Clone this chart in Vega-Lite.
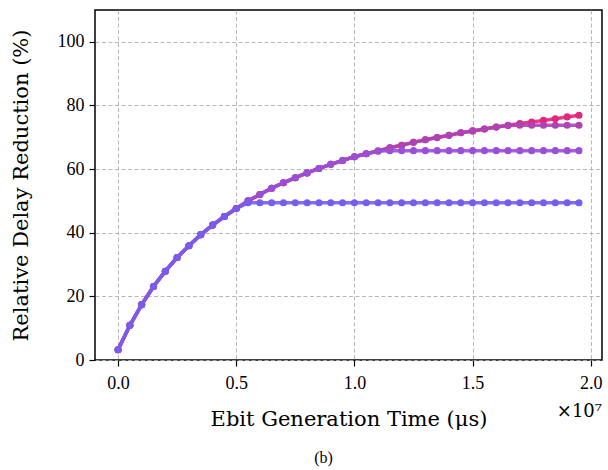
{
  "$schema": "https://vega.github.io/schema/vega-lite/v6.json",
  "width": 507,
  "height": 350,
  "autosize": "none",
  "padding": {"left": 95, "top": 10, "right": 6, "bottom": 110},
  "background": "white",
  "config": {
    "view": {"stroke": "black", "strokeWidth": 1.5},
    "font": "Liberation Serif",
    "axis": {
      "domain": false,
      "grid": true,
      "gridColor": "#b0b0b0",
      "gridDash": [4, 2.5],
      "gridWidth": 0.9,
      "ticks": true,
      "tickColor": "black",
      "tickSize": 6,
      "tickWidth": 1.2,
      "labelFont": "Liberation Serif",
      "labelFontSize": 18,
      "labelColor": "black",
      "titleFont": "DejaVu Serif",
      "titleFontSize": 21,
      "titleFontWeight": "normal",
      "titleColor": "black"
    }
  },
  "title": {
    "text": "(b)",
    "orient": "bottom",
    "anchor": "middle",
    "frame": "group",
    "dx": -25,
    "offset": 21,
    "font": "Liberation Serif",
    "fontSize": 16,
    "fontWeight": "normal",
    "color": "black"
  },
  "datasets": {
    "curves": [
      {"x": 0.00, "y": 3.2, "s": "s4"}, {"x": 0.05, "y": 10.9, "s": "s4"}, {"x": 0.10, "y": 17.4, "s": "s4"}, {"x": 0.15, "y": 23.1, "s": "s4"},
      {"x": 0.20, "y": 27.9, "s": "s4"}, {"x": 0.25, "y": 32.2, "s": "s4"}, {"x": 0.30, "y": 35.9, "s": "s4"}, {"x": 0.35, "y": 39.4, "s": "s4"},
      {"x": 0.40, "y": 42.4, "s": "s4"}, {"x": 0.45, "y": 45.1, "s": "s4"}, {"x": 0.50, "y": 47.6, "s": "s4"}, {"x": 0.55, "y": 50.0, "s": "s4"},
      {"x": 0.60, "y": 52.0, "s": "s4"}, {"x": 0.65, "y": 54.0, "s": "s4"}, {"x": 0.70, "y": 55.7, "s": "s4"}, {"x": 0.75, "y": 57.3, "s": "s4"},
      {"x": 0.80, "y": 58.8, "s": "s4"}, {"x": 0.85, "y": 60.2, "s": "s4"}, {"x": 0.90, "y": 61.5, "s": "s4"}, {"x": 0.95, "y": 62.7, "s": "s4"},
      {"x": 1.00, "y": 63.9, "s": "s4"}, {"x": 1.05, "y": 64.8, "s": "s4"}, {"x": 1.10, "y": 65.7, "s": "s4"}, {"x": 1.15, "y": 66.7, "s": "s4"},
      {"x": 1.20, "y": 67.5, "s": "s4"}, {"x": 1.25, "y": 68.4, "s": "s4"}, {"x": 1.30, "y": 69.2, "s": "s4"}, {"x": 1.35, "y": 69.9, "s": "s4"},
      {"x": 1.40, "y": 70.6, "s": "s4"}, {"x": 1.45, "y": 71.4, "s": "s4"}, {"x": 1.50, "y": 72.0, "s": "s4"}, {"x": 1.55, "y": 72.6, "s": "s4"},
      {"x": 1.60, "y": 73.2, "s": "s4"}, {"x": 1.65, "y": 73.8, "s": "s4"}, {"x": 1.70, "y": 74.3, "s": "s4"}, {"x": 1.75, "y": 74.8, "s": "s4"},
      {"x": 1.80, "y": 75.3, "s": "s4"}, {"x": 1.85, "y": 75.8, "s": "s4"}, {"x": 1.90, "y": 76.4, "s": "s4"}, {"x": 1.95, "y": 76.9, "s": "s4"},

      {"x": 0.00, "y": 3.2, "s": "s3"}, {"x": 0.05, "y": 10.9, "s": "s3"}, {"x": 0.10, "y": 17.4, "s": "s3"}, {"x": 0.15, "y": 23.1, "s": "s3"},
      {"x": 0.20, "y": 27.9, "s": "s3"}, {"x": 0.25, "y": 32.2, "s": "s3"}, {"x": 0.30, "y": 35.9, "s": "s3"}, {"x": 0.35, "y": 39.4, "s": "s3"},
      {"x": 0.40, "y": 42.4, "s": "s3"}, {"x": 0.45, "y": 45.1, "s": "s3"}, {"x": 0.50, "y": 47.6, "s": "s3"}, {"x": 0.55, "y": 50.0, "s": "s3"},
      {"x": 0.60, "y": 52.0, "s": "s3"}, {"x": 0.65, "y": 54.0, "s": "s3"}, {"x": 0.70, "y": 55.7, "s": "s3"}, {"x": 0.75, "y": 57.3, "s": "s3"},
      {"x": 0.80, "y": 58.8, "s": "s3"}, {"x": 0.85, "y": 60.2, "s": "s3"}, {"x": 0.90, "y": 61.5, "s": "s3"}, {"x": 0.95, "y": 62.7, "s": "s3"},
      {"x": 1.00, "y": 63.9, "s": "s3"}, {"x": 1.05, "y": 64.8, "s": "s3"}, {"x": 1.10, "y": 65.7, "s": "s3"}, {"x": 1.15, "y": 66.7, "s": "s3"},
      {"x": 1.20, "y": 67.5, "s": "s3"}, {"x": 1.25, "y": 68.4, "s": "s3"}, {"x": 1.30, "y": 69.2, "s": "s3"}, {"x": 1.35, "y": 69.9, "s": "s3"},
      {"x": 1.40, "y": 70.6, "s": "s3"}, {"x": 1.45, "y": 71.4, "s": "s3"}, {"x": 1.50, "y": 72.0, "s": "s3"}, {"x": 1.55, "y": 72.6, "s": "s3"},
      {"x": 1.60, "y": 73.2, "s": "s3"}, {"x": 1.65, "y": 73.7, "s": "s3"}, {"x": 1.70, "y": 73.8, "s": "s3"}, {"x": 1.75, "y": 73.8, "s": "s3"},
      {"x": 1.80, "y": 73.8, "s": "s3"}, {"x": 1.85, "y": 73.8, "s": "s3"}, {"x": 1.90, "y": 73.8, "s": "s3"}, {"x": 1.95, "y": 73.8, "s": "s3"},

      {"x": 0.00, "y": 3.2, "s": "s2"}, {"x": 0.05, "y": 10.9, "s": "s2"}, {"x": 0.10, "y": 17.4, "s": "s2"}, {"x": 0.15, "y": 23.1, "s": "s2"},
      {"x": 0.20, "y": 27.9, "s": "s2"}, {"x": 0.25, "y": 32.2, "s": "s2"}, {"x": 0.30, "y": 35.9, "s": "s2"}, {"x": 0.35, "y": 39.4, "s": "s2"},
      {"x": 0.40, "y": 42.4, "s": "s2"}, {"x": 0.45, "y": 45.1, "s": "s2"}, {"x": 0.50, "y": 47.6, "s": "s2"}, {"x": 0.55, "y": 50.0, "s": "s2"},
      {"x": 0.60, "y": 52.0, "s": "s2"}, {"x": 0.65, "y": 54.0, "s": "s2"}, {"x": 0.70, "y": 55.7, "s": "s2"}, {"x": 0.75, "y": 57.3, "s": "s2"},
      {"x": 0.80, "y": 58.8, "s": "s2"}, {"x": 0.85, "y": 60.2, "s": "s2"}, {"x": 0.90, "y": 61.5, "s": "s2"}, {"x": 0.95, "y": 62.7, "s": "s2"},
      {"x": 1.00, "y": 63.9, "s": "s2"}, {"x": 1.05, "y": 64.8, "s": "s2"}, {"x": 1.10, "y": 65.7, "s": "s2"}, {"x": 1.15, "y": 65.8, "s": "s2"},
      {"x": 1.20, "y": 65.8, "s": "s2"}, {"x": 1.25, "y": 65.8, "s": "s2"}, {"x": 1.30, "y": 65.8, "s": "s2"}, {"x": 1.35, "y": 65.8, "s": "s2"},
      {"x": 1.40, "y": 65.8, "s": "s2"}, {"x": 1.45, "y": 65.8, "s": "s2"}, {"x": 1.50, "y": 65.8, "s": "s2"}, {"x": 1.55, "y": 65.8, "s": "s2"},
      {"x": 1.60, "y": 65.8, "s": "s2"}, {"x": 1.65, "y": 65.8, "s": "s2"}, {"x": 1.70, "y": 65.8, "s": "s2"}, {"x": 1.75, "y": 65.8, "s": "s2"},
      {"x": 1.80, "y": 65.8, "s": "s2"}, {"x": 1.85, "y": 65.8, "s": "s2"}, {"x": 1.90, "y": 65.8, "s": "s2"}, {"x": 1.95, "y": 65.8, "s": "s2"},

      {"x": 0.00, "y": 3.2, "s": "s1"}, {"x": 0.05, "y": 10.9, "s": "s1"}, {"x": 0.10, "y": 17.4, "s": "s1"}, {"x": 0.15, "y": 23.1, "s": "s1"},
      {"x": 0.20, "y": 27.9, "s": "s1"}, {"x": 0.25, "y": 32.2, "s": "s1"}, {"x": 0.30, "y": 35.9, "s": "s1"}, {"x": 0.35, "y": 39.4, "s": "s1"},
      {"x": 0.40, "y": 42.4, "s": "s1"}, {"x": 0.45, "y": 45.1, "s": "s1"}, {"x": 0.50, "y": 47.6, "s": "s1"}, {"x": 0.55, "y": 49.4, "s": "s1"},
      {"x": 0.60, "y": 49.4, "s": "s1"}, {"x": 0.65, "y": 49.4, "s": "s1"}, {"x": 0.70, "y": 49.4, "s": "s1"}, {"x": 0.75, "y": 49.4, "s": "s1"},
      {"x": 0.80, "y": 49.4, "s": "s1"}, {"x": 0.85, "y": 49.4, "s": "s1"}, {"x": 0.90, "y": 49.4, "s": "s1"}, {"x": 0.95, "y": 49.4, "s": "s1"},
      {"x": 1.00, "y": 49.4, "s": "s1"}, {"x": 1.05, "y": 49.4, "s": "s1"}, {"x": 1.10, "y": 49.4, "s": "s1"}, {"x": 1.15, "y": 49.4, "s": "s1"},
      {"x": 1.20, "y": 49.4, "s": "s1"}, {"x": 1.25, "y": 49.4, "s": "s1"}, {"x": 1.30, "y": 49.4, "s": "s1"}, {"x": 1.35, "y": 49.4, "s": "s1"},
      {"x": 1.40, "y": 49.4, "s": "s1"}, {"x": 1.45, "y": 49.4, "s": "s1"}, {"x": 1.50, "y": 49.4, "s": "s1"}, {"x": 1.55, "y": 49.4, "s": "s1"},
      {"x": 1.60, "y": 49.4, "s": "s1"}, {"x": 1.65, "y": 49.4, "s": "s1"}, {"x": 1.70, "y": 49.4, "s": "s1"}, {"x": 1.75, "y": 49.4, "s": "s1"},
      {"x": 1.80, "y": 49.4, "s": "s1"}, {"x": 1.85, "y": 49.4, "s": "s1"}, {"x": 1.90, "y": 49.4, "s": "s1"}, {"x": 1.95, "y": 49.4, "s": "s1"}
    ],
    "offsetLabel": [{"label": "×10⁷"}]
  },
  "layer": [
    {
      "data": {"name": "curves"},
      "mark": {"type": "line", "strokeWidth": 3.5, "opacity": 0.9},
      "encoding": {
        "x": {
          "field": "x",
          "type": "quantitative",
          "scale": {"domain": [-0.0975, 2.0475], "nice": false, "zero": false},
          "axis": {
            "values": [0, 0.5, 1.0, 1.5, 2.0],
            "format": ".1f",
            "title": "Ebit Generation Time (μs)",
            "labelPadding": 8,
            "titlePadding": 16
          }
        },
        "y": {
          "field": "y",
          "type": "quantitative",
          "scale": {"domain": [0, 110], "nice": false},
          "axis": {
            "values": [0, 20, 40, 60, 80, 100],
            "title": "Relative Delay Reduction (%)",
            "labelPadding": 5,
            "titlePadding": 26
          }
        },
        "color": {
          "field": "s",
          "type": "nominal",
          "scale": {"domain": ["s4", "s3", "s2", "s1"], "range": ["#e2267a", "#ae43b6", "#9a4fd6", "#775ded"]},
          "legend": null
        }
      }
    },
    {
      "data": {"name": "curves"},
      "mark": {"type": "point", "filled": true, "size": 50, "opacity": 1},
      "encoding": {
        "x": {"field": "x", "type": "quantitative"},
        "y": {"field": "y", "type": "quantitative"},
        "color": {"field": "s", "type": "nominal", "legend": null}
      }
    },
    {
      "data": {"name": "offsetLabel"},
      "mark": {"type": "text", "align": "right", "baseline": "middle", "dy": 52, "font": "DejaVu Serif", "fontSize": 18, "fill": "black", "clip": false},
      "encoding": {
        "x": {"datum": 2.0475, "type": "quantitative"},
        "y": {"datum": 0, "type": "quantitative"},
        "text": {"field": "label", "type": "nominal"}
      }
    }
  ]
}
